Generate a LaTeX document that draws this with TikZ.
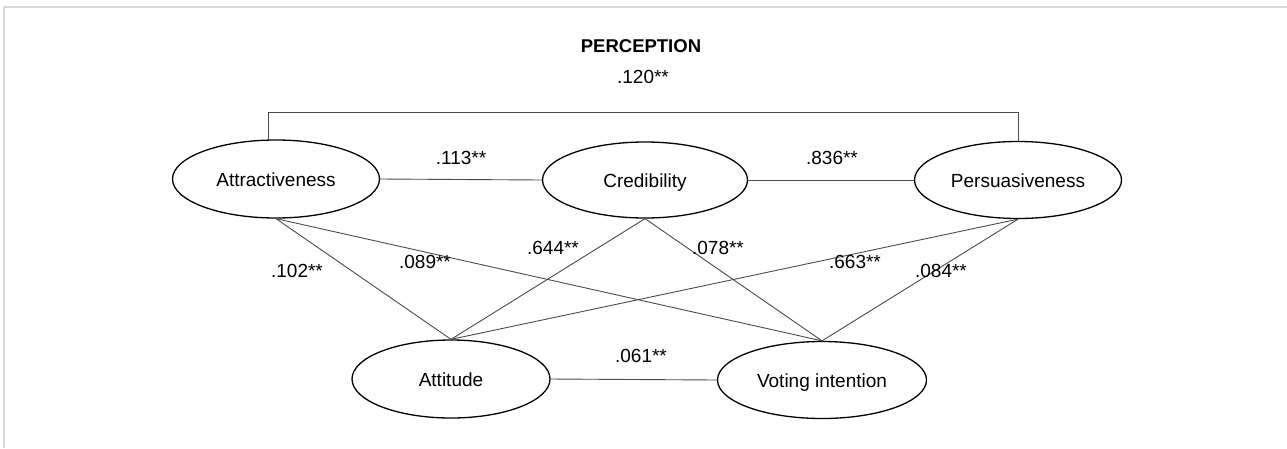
\documentclass[tikz,border=0pt]{standalone}
\usepackage{fontspec}
\setmainfont{Liberation Sans}
\usetikzlibrary{shapes.geometric}
\definecolor{framegray}{RGB}{216,216,216}
\definecolor{linegray}{RGB}{75,75,75}
\begin{document}
\begin{tikzpicture}[x=1pt,y=-1pt,
  construct/.style={ellipse,draw=black,line width=1.3pt,inner sep=0pt,text height=14pt,text depth=0pt,font=\fontsize{19}{20}\selectfont},
  path/.style={draw=linegray,line width=0.9pt},
  coef/.style={font=\fontsize{19}{20}\selectfont,inner sep=0pt}]
\useasboundingbox (0,0) rectangle (1287,448);
\fill[white] (0,0) rectangle (1287,448);
\draw[framegray,line width=2pt] (4,6.5) -- (1287,6.5);
\draw[framegray,line width=2pt] (4,6.5) -- (4,448);

\node[font=\bfseries\fontsize{18.5}{20}\selectfont] (title) at (641,46) {PERCEPTION};

\node[construct,minimum width=207pt,minimum height=78pt] (att) at (276,179) {Attractiveness};
\node[construct,minimum width=205pt,minimum height=76pt] (cre) at (645,180) {Credibility};
\node[construct,minimum width=207pt,minimum height=77pt] (per) at (1018,180) {Persuasiveness};
\node[construct,minimum width=198pt,minimum height=78pt] (atu) at (451,379) {Attitude};
\node[construct,minimum width=209pt,minimum height=77pt] (vot) at (822,380) {Voting intention};

\coordinate (tl) at (268,112);
\coordinate (tr) at (1018,112);
\draw[path] (att.north -| tl) -- (tl) -- (tr) -- (per.north);

\draw[path] (att.east) -- (cre.west);
\draw[path] (cre.east) -- (per.west);
\draw[path] (atu.east) -- (vot.west);

\draw[path] (att.south) -- (atu.north);
\draw[path] (att.south) -- (vot.north);
\draw[path] (cre.south) -- (atu.north);
\draw[path] (cre.south) -- (vot.north);
\draw[path] (per.south) -- (atu.north);
\draw[path] (per.south) -- (vot.north);

\node[coef] (c120) at (643,77) {.120**};
\node[coef] (c113) at (461,158) {.113**};
\node[coef] (c836) at (832,158) {.836**};
\node[coef] (c644) at (553,248) {.644**};
\node[coef] (c078) at (718,248) {.078**};
\node[coef] (c102) at (297,271) {.102**};
\node[coef] (c089) at (425,262) {.089**};
\node[coef] (c663) at (855,262) {.663**};
\node[coef] (c084) at (941,271) {.084**};
\node[coef] (c061) at (641,356) {.061**};
\end{tikzpicture}
\end{document}
